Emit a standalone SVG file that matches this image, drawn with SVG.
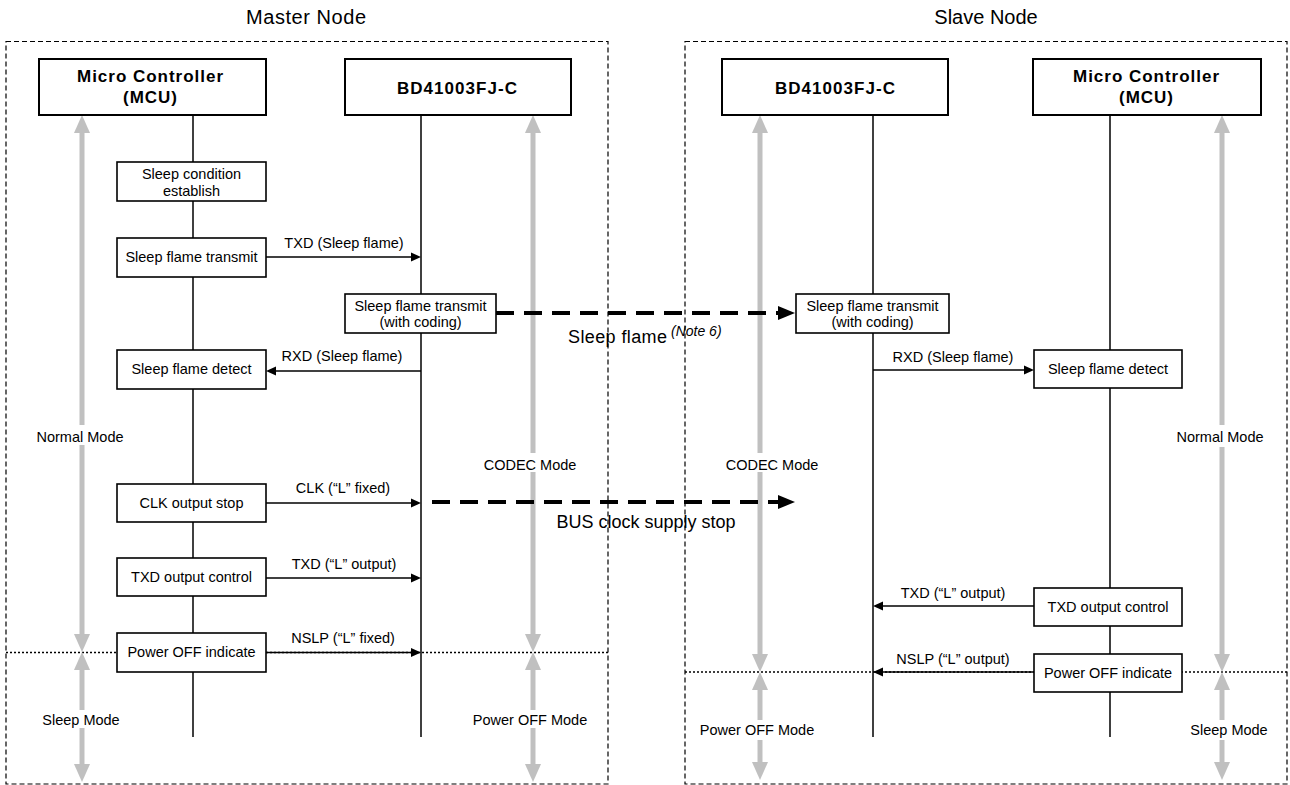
<svg xmlns="http://www.w3.org/2000/svg" width="1290" height="785" viewBox="0 0 1290 785">
<style>
text{font-family:"Liberation Sans",Arial,sans-serif;fill:#000}
.title{font-size:20px;text-anchor:middle}
.hd{font-size:17px;font-weight:bold;text-anchor:middle}
.lb{font-size:14.5px;text-anchor:middle}
.big{font-size:18px}
.note{font-size:14px;font-style:italic}
.frame{fill:none;stroke:#000;stroke-width:1.2;stroke-dasharray:5,3}
.hbox{fill:#fff;stroke:#000;stroke-width:2}
.box{fill:#fff;stroke:#000;stroke-width:1.6}
.life{stroke:#000;stroke-width:1.5}
.msg{stroke:#000;stroke-width:1.5;marker-end:url(#ah)}
.bus{stroke:#000;stroke-width:4;stroke-dasharray:18,10;marker-end:url(#bh)}
.mode{stroke:#c0c0c0;stroke-width:5;marker-start:url(#gh);marker-end:url(#gh)}
.dot{stroke:#000;stroke-width:1.5;stroke-dasharray:2,2}
.gap{fill:#fff}
</style>
<defs>
<marker id="ah" markerUnits="userSpaceOnUse" markerWidth="10" markerHeight="9" refX="0" refY="4.5" orient="auto" overflow="visible"><path d="M0,0 L10,4.5 L0,9z" fill="#000"/></marker>
<marker id="bh" markerUnits="userSpaceOnUse" markerWidth="17" markerHeight="14" refX="0" refY="7" orient="auto" overflow="visible"><path d="M0,0 L17,7 L0,14z" fill="#000"/></marker>
<marker id="gh" markerUnits="userSpaceOnUse" markerWidth="18" markerHeight="16" refX="0" refY="8" orient="auto-start-reverse" overflow="visible"><path d="M0,0 L18,8 L0,16z" fill="#c0c0c0"/></marker>
</defs>
<rect width="1290" height="785" fill="#fff"/>

<g id="master-node">
<text class="title" x="306" y="24" textLength="120">Master Node</text>
<rect class="frame" x="6" y="41.5" width="602" height="742.5"/>
</g>
<g id="slave-node">
<text class="title" x="986" y="24">Slave Node</text>
<rect class="frame" x="685" y="41.5" width="602" height="742.5"/>
</g>

<g id="lifelines">
<line class="life" x1="193" y1="115" x2="193" y2="737"/>
<line class="life" x1="421" y1="115" x2="421" y2="737"/>
<line class="life" x1="873" y1="115" x2="873" y2="737"/>
<line class="life" x1="1110" y1="115" x2="1110" y2="737"/>
</g>

<g id="mode-boundaries">
<line class="dot" x1="6" y1="652.5" x2="608" y2="652.5"/>
<line class="dot" x1="685" y1="672" x2="1287" y2="672"/>
</g>

<g id="modes">
<line class="mode" x1="82" y1="133" x2="82" y2="634"/>
<line class="mode" x1="82" y1="670" x2="82" y2="764"/>
<line class="mode" x1="533" y1="133" x2="533" y2="634"/>
<line class="mode" x1="533" y1="670" x2="533" y2="764"/>
<line class="mode" x1="760" y1="133" x2="760" y2="654"/>
<line class="mode" x1="760" y1="690" x2="760" y2="762"/>
<line class="mode" x1="1222" y1="133" x2="1222" y2="654"/>
<line class="mode" x1="1222" y1="690" x2="1222" y2="762"/>
<rect class="gap" x="78" y="425" width="8" height="20"/>
<rect class="gap" x="529" y="453" width="8" height="19"/>
<rect class="gap" x="78" y="710" width="8" height="18"/>
<rect class="gap" x="529" y="710" width="8" height="18"/>
<rect class="gap" x="756" y="453" width="8" height="19"/>
<rect class="gap" x="1218" y="425" width="8" height="22"/>
<rect class="gap" x="756" y="720" width="8" height="20"/>
<rect class="gap" x="1218" y="720" width="8" height="20"/>
<text class="lb" x="80" y="442">Normal Mode</text>
<text class="lb" x="530" y="470">CODEC Mode</text>
<text class="lb" x="81" y="725">Sleep Mode</text>
<text class="lb" x="530" y="725">Power OFF Mode</text>
<text class="lb" x="772" y="470">CODEC Mode</text>
<text class="lb" x="1220" y="442">Normal Mode</text>
<text class="lb" x="757" y="735">Power OFF Mode</text>
<text class="lb" x="1229" y="735">Sleep Mode</text>
</g>

<g id="connectors">
<line class="msg" x1="266" y1="257" x2="411" y2="257"/>
<text class="lb" x="344" y="248">TXD (Sleep flame)</text>
<line class="msg" x1="421" y1="371" x2="276" y2="371"/>
<text class="lb" x="342" y="361">RXD (Sleep flame)</text>
<line class="msg" x1="266" y1="503" x2="411" y2="503"/>
<text class="lb" x="343" y="493">CLK (“L” fixed)</text>
<line class="msg" x1="266" y1="578" x2="411" y2="578"/>
<text class="lb" x="344" y="569">TXD (“L” output)</text>
<line class="msg" x1="266" y1="652.5" x2="411" y2="652.5"/>
<text class="lb" x="343" y="643">NSLP (“L” fixed)</text>
<line class="msg" x1="873" y1="370" x2="1024" y2="370"/>
<text class="lb" x="953" y="362">RXD (Sleep flame)</text>
<line class="msg" x1="1034" y1="606" x2="883" y2="606"/>
<text class="lb" x="953" y="598">TXD (“L” output)</text>
<line class="msg" x1="1034" y1="672" x2="883" y2="672"/>
<text class="lb" x="953" y="664">NSLP (“L” output)</text>
<line class="bus" x1="496" y1="313" x2="778" y2="313"/>
<text class="big" x="568" y="343" textLength="99">Sleep flame</text>
<text class="note" x="671" y="336">(Note 6)</text>
<line class="bus" x1="432" y1="502" x2="778" y2="502"/>
<text class="big" x="646" y="528" text-anchor="middle">BUS clock supply stop</text>
</g>

<g id="m-mcu">
<rect class="hbox" x="39" y="59" width="227" height="56"/>
<text class="hd" x="150" y="82" textLength="146">Micro Controller</text>
<text class="hd" x="150" y="103" textLength="54">(MCU)</text>
</g>
<g id="m-bd">
<rect class="hbox" x="345" y="59" width="226" height="56"/>
<text class="hd" x="457" y="94" textLength="120">BD41003FJ-C</text>
</g>
<g id="s-bd">
<rect class="hbox" x="722" y="59" width="226" height="56"/>
<text class="hd" x="835" y="94" textLength="120">BD41003FJ-C</text>
</g>
<g id="s-mcu">
<rect class="hbox" x="1033" y="59" width="228" height="56"/>
<text class="hd" x="1146" y="82" textLength="146">Micro Controller</text>
<text class="hd" x="1146" y="103" textLength="54">(MCU)</text>
</g>

<g id="m-sleep-cond">
<rect class="box" x="117" y="162" width="149" height="39"/>
<text class="lb" x="191.5" y="179">Sleep condition</text>
<text class="lb" x="191.5" y="196">establish</text>
</g>
<g id="m-sleep-tx">
<rect class="box" x="117" y="238" width="149" height="39"/>
<text class="lb" x="191.5" y="262">Sleep flame transmit</text>
</g>
<g id="m-coding">
<rect class="box" x="345" y="294" width="151" height="39"/>
<text class="lb" x="420.5" y="311">Sleep flame transmit</text>
<text class="lb" x="420.5" y="327">(with coding)</text>
</g>
<g id="m-detect">
<rect class="box" x="117" y="350" width="149" height="39"/>
<text class="lb" x="191.5" y="374">Sleep flame detect</text>
</g>
<g id="m-clk">
<rect class="box" x="117" y="484" width="149" height="38"/>
<text class="lb" x="191.5" y="508">CLK output stop</text>
</g>
<g id="m-txd">
<rect class="box" x="117" y="558" width="149" height="38"/>
<text class="lb" x="191.5" y="582">TXD output control</text>
</g>
<g id="m-poweroff">
<rect class="box" x="117" y="633" width="149" height="39"/>
<text class="lb" x="191.5" y="657">Power OFF indicate</text>
</g>
<g id="s-coding">
<rect class="box" x="796" y="294" width="153" height="39"/>
<text class="lb" x="872.5" y="311">Sleep flame transmit</text>
<text class="lb" x="872.5" y="327">(with coding)</text>
</g>
<g id="s-detect">
<rect class="box" x="1034" y="350" width="148" height="38"/>
<text class="lb" x="1108" y="374">Sleep flame detect</text>
</g>
<g id="s-txd">
<rect class="box" x="1034" y="588" width="148" height="38"/>
<text class="lb" x="1108" y="612">TXD output control</text>
</g>
<g id="s-poweroff">
<rect class="box" x="1034" y="654" width="148" height="38"/>
<text class="lb" x="1108" y="678">Power OFF indicate</text>
</g>
</svg>
